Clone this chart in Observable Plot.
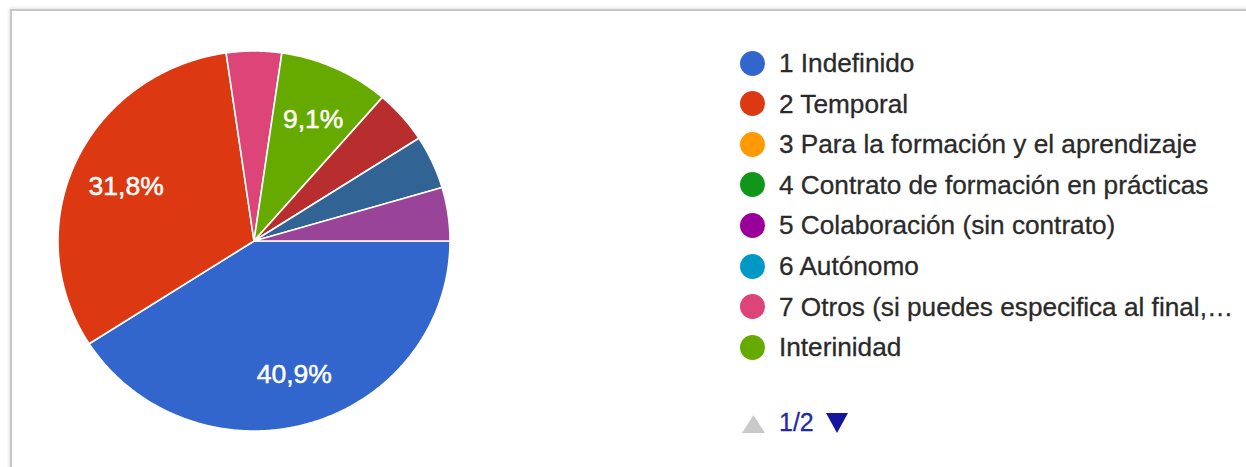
<!DOCTYPE html>
<html>
<head>
<meta charset="utf-8">
<script src="https://cdn.jsdelivr.net/npm/d3@7"></script>
<script src="https://cdn.jsdelivr.net/npm/@observablehq/plot@0.6"></script>
<style>
  html, body { margin: 0; padding: 0; background: #fff; }
  #wrap { position: relative; width: 1246px; height: 467px; overflow: hidden; font-family: "Liberation Sans", Arial, sans-serif; }
  #frame { position: absolute; left: 10px; top: 9px; width: 1300px; height: 500px; border-top: 2px solid #c6c6c6; border-left: 2px solid #c6c6c6; box-shadow: -1px -1px 3px rgba(0,0,0,0.12); }
  #pie { position: absolute; left: 0; top: 0; }
  #legend { position: absolute; left: 740px; top: 0; }
  .item { position: absolute; left: 0; height: 30px; white-space: nowrap; }
  .dot { position: absolute; left: 0; width: 25px; height: 25px; border-radius: 50%; }
  .lab { position: absolute; left: 39px; font-size: 26.2px; color: #2a2a2a; line-height: 30px; top: -15px; -webkit-text-stroke: 0.3px #2a2a2a; }
  #pager { position: absolute; left: 742px; top: 408px; height: 28px; }
  #pager span { position: absolute; left: 37px; top: 0px; font-size: 25px; color: #1f2aa8; -webkit-text-stroke: 0.3px #1f2aa8; }
</style>
</head>
<body>
<div id="wrap">
  <div id="frame"></div>
  <div id="pie"></div>
  <div id="legend"></div>
  <div id="pager">
    <svg width="110" height="28" style="position:absolute;left:0;top:0">
      <polygon points="0,25 11.5,7 23,25" fill="#c9c9c9"></polygon>
      <polygon points="84,5 106,5 95,25" fill="#1515a0"></polygon>
    </svg>
    <span>1/2</span>
  </div>
</div>
<script>
// ---- data ----
const categories = [
  "1 Indefinido",
  "2 Temporal",
  "3 Para la formación y el aprendizaje",
  "4 Contrato de formación en prácticas",
  "5 Colaboración (sin contrato)",
  "6 Autónomo",
  "7 Otros (si puedes especifica al final,…",
  "Interinidad",
  "Opción 9",
  "Opción 10",
  "Opción 11"
];
const counts = [9, 7, 0, 0, 0, 0, 1, 2, 1, 1, 1];
const colors = ["#3366cc", "#dc3912", "#ff9900", "#109618", "#990099", "#0099c6",
                "#dd4477", "#66aa00", "#b82e2e", "#316395", "#994499"];
const legendShown = 8;       // page 1 of 2 of the legend
const labelThreshold = 0.05; // slices smaller than this carry no label

// ---- pie geometry from the data ----
const total = d3.sum(counts);
const pie = d3.pie().sort(null).value(d => d.count)
  .startAngle(Math.PI / 2).endAngle(Math.PI / 2 + 2 * Math.PI);
const rows = categories.map((c, i) => ({category: c, count: counts[i], color: colors[i]}));
const arcs = pie(rows).filter(a => a.data.count > 0);

const pts = [];
for (const a of arcs) {
  const n = Math.max(2, Math.ceil((a.endAngle - a.startAngle) / 0.01));
  for (let k = 0; k <= n; k++) {
    const t = a.startAngle + (a.endAngle - a.startAngle) * k / n;
    pts.push({category: a.data.category, x: Math.sin(t), y: Math.cos(t)});
  }
}
const fmt = v => (v * 100).toFixed(1).replace(".", ",") + "%";
const labels = arcs.filter(a => a.data.count / total >= labelThreshold).map(a => {
  const m = (a.startAngle + a.endAngle) / 2;
  return {x: 0.72 * Math.sin(m), y: 0.72 * Math.cos(m), text: fmt(a.data.count / total)};
});

const chart = Plot.plot({
  width: 500,
  height: 467,
  marginLeft: 58,
  marginRight: 50,
  marginTop: 51,
  marginBottom: 36,
  x: {domain: [-1, 1], axis: null},
  y: {domain: [-1, 1], axis: null},
  color: {domain: categories, range: colors},
  style: {background: "transparent", overflow: "visible"},
  marks: [
    Plot.area(pts, {
      x1: 0, y1: 0, x2: "x", y2: "y", z: "category", fill: "category",
      stroke: "white", strokeWidth: 1.6, strokeLinejoin: "round", curve: "linear"
    }),
    Plot.text(labels, {
      x: "x", y: "y", dy: 2, text: "text", fill: "white", fontSize: 26.5,
      stroke: "white", strokeWidth: 0.5,
      fontFamily: "Liberation Sans, Arial, sans-serif"
    })
  ]
});
document.getElementById("pie").appendChild(chart);

// ---- legend (first page) ----
const legend = document.getElementById("legend");
rows.slice(0, legendShown).forEach((r, i) => {
  const cy = 63 + i * 40.6;
  const item = document.createElement("div");
  item.className = "item";
  item.style.top = cy + "px";
  const dot = document.createElement("div");
  dot.className = "dot";
  dot.style.background = r.color;
  dot.style.top = "-12.5px";
  const lab = document.createElement("div");
  lab.className = "lab";
  lab.textContent = r.category;
  item.appendChild(dot);
  item.appendChild(lab);
  legend.appendChild(item);
});
</script>
</body>
</html>
